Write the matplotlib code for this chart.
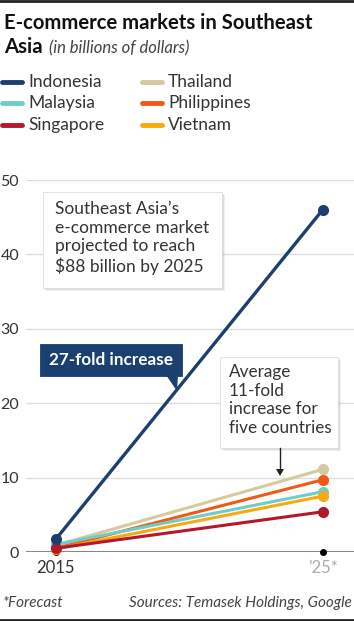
import matplotlib
matplotlib.use("Agg")
import matplotlib.pyplot as plt
from matplotlib.patches import Rectangle, Polygon
from matplotlib.lines import Line2D

# data (billions of dollars)
years = [2015, 2025]
countries = ["Indonesia", "Malaysia", "Singapore", "Thailand", "Philippines", "Vietnam"]
values_2015 = [1.7, 1.0, 0.5, 0.9, 0.5, 0.4]
values_2025 = [46.0, 8.1, 5.4, 11.1, 9.7, 7.5]
colors = ["#1b3f6e", "#6fcdc9", "#b3182b", "#d6c99f", "#f05a14", "#f8a90f"]
xtick_labels = ["2015", "\u201925*"]
yticks = [0, 10, 20, 30, 40, 50]

W, H = 354, 621
plt.rcParams["font.family"] = ["Lato", "DejaVu Sans"]

fig = plt.figure(figsize=(W / 100, H / 100), dpi=100)


def px(x, y):
    # pixel position (top-left origin) -> figure fraction
    return x / W, 1 - y / H


# axes: left gridline start at 26px, y=0 at 552px, y=50 at 180px
ax = fig.add_axes([26 / W, (H - 552) / H, (W - 26) / W, 372 / H])
ax.set_xlim(2015 - 29.7 / 26.7, 2025 + 31.3 / 26.7)
ax.set_ylim(0, 50)
for s in ax.spines.values():
    s.set_visible(False)
ax.set_yticks(yticks)
ax.set_yticklabels([str(v) for v in yticks])
ax.tick_params(axis="y", length=0, pad=5, labelsize=11.5, labelcolor="#333333")
ax.set_xticks(years)
ax.set_xticklabels(xtick_labels)
ax.tick_params(axis="x", length=0, pad=6, labelsize=12)
ax.get_xticklabels()[0].set_color("#333333")
ax.get_xticklabels()[1].set_color("#aaaaaa")
for v in yticks[1:]:
    ax.axhline(v, color="#dddddd", lw=1, zorder=0)
ax.axhline(0, color="#888888", lw=1.5, zorder=1)
ax.plot(years, [0, 0], "o", color="black", ms=4, zorder=2, clip_on=False)

order = [3, 4, 1, 5, 2, 0]
for i in order:
    ax.plot(years, [values_2015[i], values_2025[i]], "-o", color=colors[i],
            lw=2.4 if i == 0 else 2.2, ms=7, zorder=3 + (i == 0), clip_on=False,
            solid_capstyle="round")

# top / bottom rules
fig.add_artist(Line2D([0, 1], [1 - 1 / H, 1 - 1 / H], color="#222222", lw=2))
fig.add_artist(Line2D([0, 1], [1 / H, 1 / H], color="#222222", lw=2))

# title
fig.text(*px(4, 29), "E-commerce markets in Southeast", fontsize=14.6, fontweight="bold",
         color="#111111", va="baseline")
fig.text(*px(4, 53), "Asia", fontsize=14.6, fontweight="bold", color="#111111",
         va="baseline")
fig.text(*px(49, 53), "(in billions of dollars)", fontsize=12, style="italic",
         color="#444444", va="baseline")

# legend
leg_pos = [(2, 82), (2, 103), (2, 125), (142, 82), (142, 103), (142, 125)]
for (lx, ly), name, c in zip(leg_pos, countries, colors):
    fig.add_artist(Line2D([lx / W, (lx + 20) / W], [1 - ly / H, 1 - ly / H],
                          color=c, lw=3.5, solid_capstyle="round"))
    fig.text(*px(lx + 26, ly), name, fontsize=12.5, color="#333333", va="center")


def box(x0, y0, x1, y1, face="white", edge="#dddddd", shadow=True):
    if shadow:
        for d, a in [(3, 0.06), (2, 0.08), (1, 0.1)]:
            fig.add_artist(Rectangle(px(x0 + d, y1 + d), (x1 - x0) / W, (y1 - y0) / H,
                                     facecolor="black", alpha=a, edgecolor="none",
                                     zorder=5))
    fig.add_artist(Rectangle(px(x0, y1), (x1 - x0) / W, (y1 - y0) / H,
                             facecolor=face, edgecolor=edge, lw=0.6, zorder=6))


# annotation 1
box(43, 192, 222, 288)
fig.text(*px(55, 201), "Southeast Asia\u2019s\ne-commerce market\nprojected to reach\n$88 billion by 2025",
         fontsize=12.5, color="#333333", va="top", linespacing=1.2, zorder=7)

# annotation 2
box(40, 344, 182, 376, face="#1b3f6e", edge="#1b3f6e", shadow=False)
fig.add_artist(Polygon([px(166, 375), px(178, 375), px(177, 391)], closed=True,
                       facecolor="#1b3f6e", edgecolor="none", zorder=6))
fig.text(*px(111, 360), "27-fold increase", fontsize=12.3, fontweight="bold",
         color="white", ha="center", va="center", zorder=7)

# annotation 3
box(220, 357, 338, 448)
fig.text(*px(229, 364), "Average\n11-fold\nincrease for\nfive countries",
         fontsize=12.3, color="#333333", va="top", linespacing=1.2, zorder=7)
fig.add_artist(Line2D([280 / W, 280 / W], [1 - 448 / H, 1 - 470 / H],
                      color="#222222", lw=1, zorder=7))
fig.add_artist(Polygon([px(276, 469), px(284, 469), px(280, 476)], closed=True,
                       facecolor="#222222", edgecolor="none", zorder=7))

# footer
fig.text(*px(3, 607), "*Forecast", fontsize=11, style="italic", color="#444444",
         va="baseline")
fig.text(*px(352, 607), "Sources: Temasek Holdings, Google", fontsize=11,
         style="italic", color="#444444", va="baseline", ha="right")

fig.savefig("out.png", dpi=100)
